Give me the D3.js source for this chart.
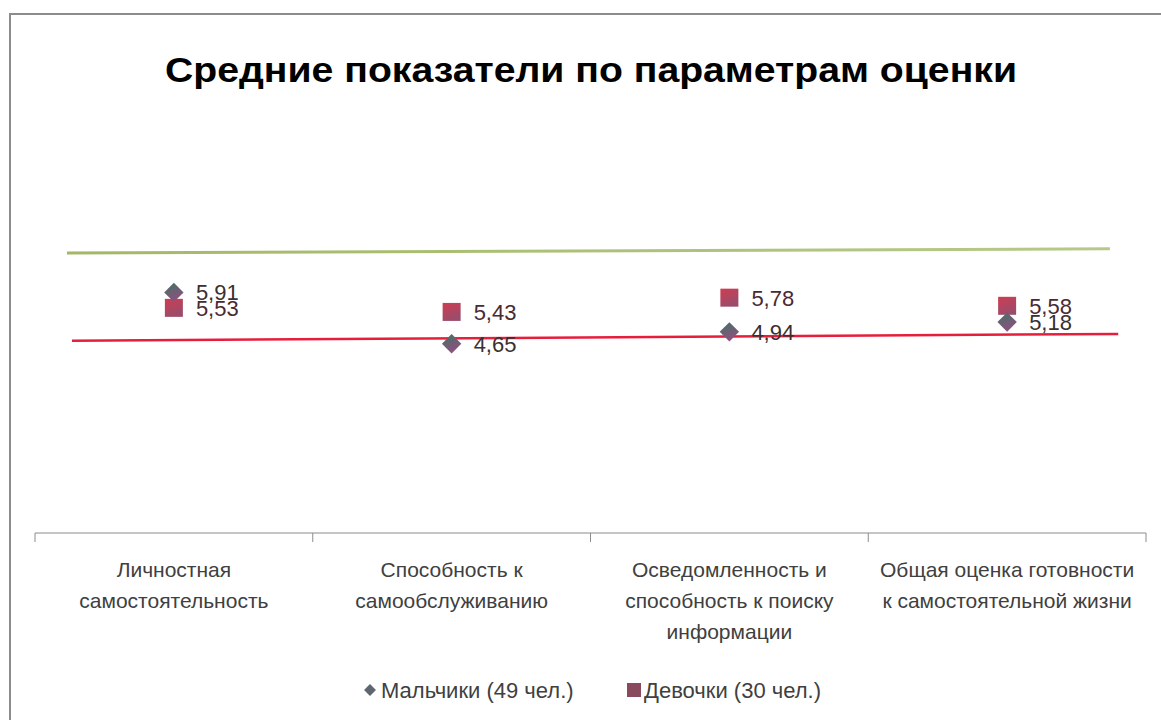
<!DOCTYPE html>
<html>
<head>
<meta charset="utf-8">
<script src="https://cdn.jsdelivr.net/npm/d3@7"></script>
<style>
  body { margin: 0; background: #fff; }
  svg { display: block; font-family: 'Liberation Sans', Arial, sans-serif; }
</style>
</head>
<body>
<div id="chart"></div>
<script>
const WIDTH = 1161;
const HEIGHT = 720;

// data
const categories = [
  ['Личностная', 'самостоятельность'],
  ['Способность к', 'самообслуживанию'],
  ['Осведомленность и', 'способность к поиску', 'информации'],
  ['Общая оценка готовности', 'к самостоятельной жизни']
];
const boys = [5.91, 4.65, 4.94, 5.18];
const girls = [5.53, 5.43, 5.78, 5.58];
const seriesNames = ['Мальчики (49 чел.)', 'Девочки (30 чел.)'];
// hand drawn reference lines: [category position, value]
const greenLine = [[-0.385, 6.88], [3.37, 6.98]];
const redLine = [[-0.367, 4.72], [3.4, 4.89]];

const svg = d3
  .select('#chart')
  .append('svg')
  .attr('width', WIDTH)
  .attr('height', HEIGHT);

// gradients
const defs = svg.append('defs');
const grad = (id, c1, c2) => {
  const g = defs.append('linearGradient').attr('id', id)
    .attr('x1', 0).attr('y1', 0).attr('x2', 0.4).attr('y2', 1);
  g.append('stop').attr('offset', '0%').attr('stop-color', c1);
  g.append('stop').attr('offset', '100%').attr('stop-color', c2);
};
grad('gBoy', '#3f7462', '#8e5080');
grad('gGirl', '#d03c52', '#9a4c6c');
const lg = defs.append('linearGradient').attr('id', 'gGreen');
lg.append('stop').attr('offset', '0%').attr('stop-color', '#a3b866');
lg.append('stop').attr('offset', '100%').attr('stop-color', '#b7c98a');

// chart frame
svg.append('rect')
  .attr('x', 10).attr('y', 14)
  .attr('width', WIDTH + 20).attr('height', HEIGHT + 20)
  .attr('fill', 'none')
  .attr('stroke', '#8c8c8c')
  .attr('stroke-width', 2);

// title
svg.append('text')
  .attr('x', 591)
  .attr('y', 82)
  .attr('text-anchor', 'middle')
  .style('font-size', '35px')
  .style('font-weight', 'bold')
  .attr('fill', '#000')
  .attr('textLength', 852)
  .attr('lengthAdjust', 'spacingAndGlyphs')
  .text('Средние показатели по параметрам оценки');

const xScale = d3.scaleBand().domain(d3.range(categories.length)).range([35, 1146]);
const xPos = d3.scaleLinear().domain([0, 1]).range([xScale(0) + xScale.bandwidth() / 2, xScale(1) + xScale.bandwidth() / 2]);
const yScale = d3.scaleLinear().domain([0, 7]).range([533, 248]);

// x axis
const xAxis = d3.axisBottom(xScale).tickSize(0).tickFormat('');
const axisG = svg.append('g')
  .attr('transform', 'translate(0,533)')
  .call(xAxis);
axisG.select('.domain').attr('stroke', '#8c8c8c').attr('d', 'M35,0H1146');
// boundary ticks
axisG.selectAll('.btick')
  .data(d3.range(categories.length + 1))
  .enter()
  .append('line')
  .attr('class', 'btick')
  .attr('x1', d => (d < categories.length ? xScale(d) : xScale.range()[1]))
  .attr('x2', d => (d < categories.length ? xScale(d) : xScale.range()[1]))
  .attr('y1', 0)
  .attr('y2', 9)
  .attr('stroke', '#8c8c8c');

// category labels
categories.forEach((lines, i) => {
  const t = svg.append('text')
    .attr('text-anchor', 'middle')
    .style('font-size', '21px')
    .attr('fill', '#404040');
  lines.forEach((l, j) => {
    t.append('tspan')
      .attr('x', xPos(i))
      .attr('y', 577 + j * 31)
      .text(l);
  });
});

// reference lines
const line = d3.line().x(d => xPos(d[0])).y(d => yScale(d[1]));
svg.append('path')
  .datum(greenLine)
  .attr('d', line)
  .attr('stroke', 'url(#gGreen)')
  .attr('stroke-width', 3)
  .attr('fill', 'none');
svg.append('path')
  .datum(redLine)
  .attr('d', line)
  .attr('stroke', '#e61e3c')
  .attr('stroke-width', 2.5)
  .attr('fill', 'none');

// markers
const diamond = d3.symbol().type(d3.symbolDiamond2).size(240);
svg.selectAll('.girl')
  .data(girls)
  .enter()
  .append('rect')
  .attr('class', 'girl')
  .attr('x', (d, i) => xPos(i) - 9)
  .attr('y', d => yScale(d) - 9)
  .attr('width', 18)
  .attr('height', 18)
  .attr('fill', 'url(#gGirl)');
svg.selectAll('.boy')
  .data(boys)
  .enter()
  .append('path')
  .attr('class', 'boy')
  .attr('d', diamond)
  .attr('transform', (d, i) => `translate(${xPos(i)},${yScale(d)})`)
  .attr('fill', 'url(#gBoy)');

// data labels
const fmt = v => d3.format('.2f')(v).replace('.', ',');
[girls, boys].forEach((vals, s) => {
  svg.selectAll('.lbl' + s)
    .data(vals)
    .enter()
    .append('text')
    .attr('class', 'lbl' + s)
    .attr('x', (d, i) => xPos(i) + 22)
    .attr('y', d => yScale(d) + 8)
    .style('font-size', '22px')
    .attr('fill', s === 0 ? '#4a2a30' : '#3a3030')
    .text(fmt);
});

// legend
const legend = svg.append('g').attr('transform', 'translate(0,690)');
legend.append('path')
  .attr('d', d3.symbol().type(d3.symbolDiamond2).size(90))
  .attr('transform', 'translate(370,0)')
  .attr('fill', '#5e6670');
legend.append('text')
  .attr('x', 381).attr('y', 8)
  .style('font-size', '22px')
  .attr('fill', '#404040')
  .text(seriesNames[0]);
legend.append('rect')
  .attr('x', 627).attr('y', -7)
  .attr('width', 14).attr('height', 14)
  .attr('fill', '#8a4a5e');
legend.append('text')
  .attr('x', 644).attr('y', 8)
  .style('font-size', '22px')
  .attr('fill', '#404040')
  .text(seriesNames[1]);
</script>
</body>
</html>
